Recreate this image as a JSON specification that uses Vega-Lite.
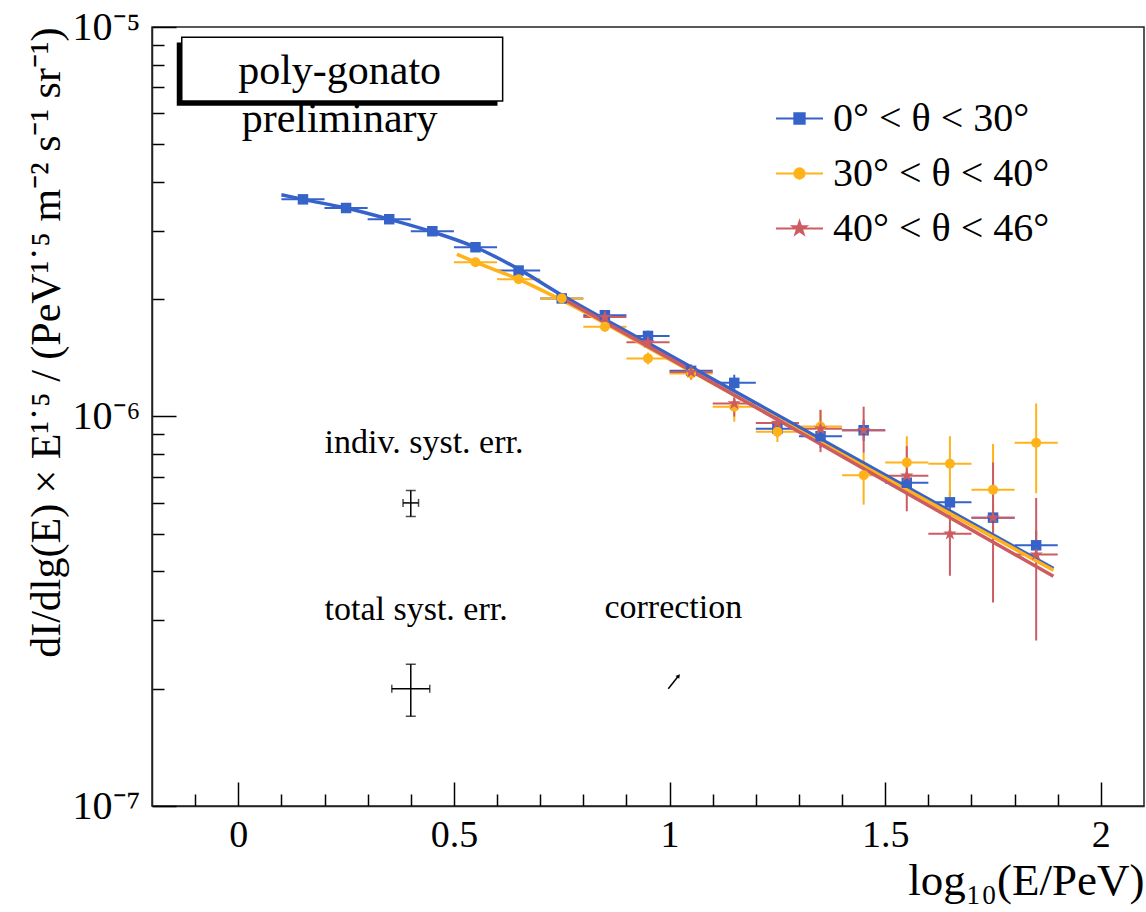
{
  "$schema": "https://vega.github.io/schema/vega-lite/v6.json",
  "width": 992,
  "height": 779,
  "autosize": "none",
  "padding": {"left": 152, "top": 27, "right": 2, "bottom": 106},
  "background": "white",
  "config": {"view": {"stroke": "#222", "strokeWidth": 1.5}, "font": "Liberation Serif"},
  "datasets": {
    "pts": [
      {"s": "0° < θ < 30°", "x": 0.15, "y": 3.61e-6, "lo": 3.55e-6, "hi": 3.67e-6, "xlo": 0.1, "xhi": 0.2},
      {"s": "0° < θ < 30°", "x": 0.25, "y": 3.43e-6, "lo": 3.37e-6, "hi": 3.49e-6, "xlo": 0.2, "xhi": 0.3},
      {"s": "0° < θ < 30°", "x": 0.35, "y": 3.21e-6, "lo": 3.15e-6, "hi": 3.27e-6, "xlo": 0.3, "xhi": 0.4},
      {"s": "0° < θ < 30°", "x": 0.45, "y": 2.99e-6, "lo": 2.94e-6, "hi": 3.04e-6, "xlo": 0.4, "xhi": 0.5},
      {"s": "0° < θ < 30°", "x": 0.55, "y": 2.72e-6, "lo": 2.67e-6, "hi": 2.77e-6, "xlo": 0.5, "xhi": 0.6},
      {"s": "0° < θ < 30°", "x": 0.65, "y": 2.37e-6, "lo": 2.32e-6, "hi": 2.42e-6, "xlo": 0.6, "xhi": 0.7},
      {"s": "0° < θ < 30°", "x": 0.75, "y": 2.01e-6, "lo": 1.97e-6, "hi": 2.05e-6, "xlo": 0.7, "xhi": 0.8},
      {"s": "0° < θ < 30°", "x": 0.85, "y": 1.82e-6, "lo": 1.77e-6, "hi": 1.87e-6, "xlo": 0.8, "xhi": 0.9},
      {"s": "0° < θ < 30°", "x": 0.95, "y": 1.61e-6, "lo": 1.56e-6, "hi": 1.66e-6, "xlo": 0.9, "xhi": 1.0},
      {"s": "0° < θ < 30°", "x": 1.05, "y": 1.31e-6, "lo": 1.26e-6, "hi": 1.36e-6, "xlo": 1.0, "xhi": 1.1},
      {"s": "0° < θ < 30°", "x": 1.15, "y": 1.22e-6, "lo": 1.17e-6, "hi": 1.28e-6, "xlo": 1.1, "xhi": 1.2},
      {"s": "0° < θ < 30°", "x": 1.25, "y": 9.3e-7, "lo": 8.85e-7, "hi": 9.75e-7, "xlo": 1.2, "xhi": 1.3},
      {"s": "0° < θ < 30°", "x": 1.35, "y": 8.9e-7, "lo": 8.3e-7, "hi": 9.6e-7, "xlo": 1.3, "xhi": 1.4},
      {"s": "0° < θ < 30°", "x": 1.45, "y": 9.22e-7, "lo": 8.65e-7, "hi": 9.8e-7, "xlo": 1.4, "xhi": 1.5},
      {"s": "0° < θ < 30°", "x": 1.55, "y": 6.76e-7, "lo": 6.3e-7, "hi": 7.2e-7, "xlo": 1.5, "xhi": 1.6},
      {"s": "0° < θ < 30°", "x": 1.65, "y": 6.02e-7, "lo": 5.6e-7, "hi": 6.45e-7, "xlo": 1.6, "xhi": 1.7},
      {"s": "0° < θ < 30°", "x": 1.75, "y": 5.5e-7, "lo": 5.05e-7, "hi": 5.95e-7, "xlo": 1.7, "xhi": 1.8},
      {"s": "0° < θ < 30°", "x": 1.85, "y": 4.67e-7, "lo": 4.25e-7, "hi": 5.1e-7, "xlo": 1.8, "xhi": 1.9},
      {"s": "30° < θ < 40°", "x": 0.55, "y": 2.49e-6, "lo": 2.45e-6, "hi": 2.53e-6, "xlo": 0.5, "xhi": 0.6},
      {"s": "30° < θ < 40°", "x": 0.65, "y": 2.25e-6, "lo": 2.2e-6, "hi": 2.3e-6, "xlo": 0.6, "xhi": 0.7},
      {"s": "30° < θ < 40°", "x": 0.75, "y": 2.01e-6, "lo": 1.96e-6, "hi": 2.06e-6, "xlo": 0.7, "xhi": 0.8},
      {"s": "30° < θ < 40°", "x": 0.85, "y": 1.70e-6, "lo": 1.65e-6, "hi": 1.75e-6, "xlo": 0.8, "xhi": 0.9},
      {"s": "30° < θ < 40°", "x": 0.95, "y": 1.41e-6, "lo": 1.36e-6, "hi": 1.46e-6, "xlo": 0.9, "xhi": 1.0},
      {"s": "30° < θ < 40°", "x": 1.05, "y": 1.29e-6, "lo": 1.24e-6, "hi": 1.34e-6, "xlo": 1.0, "xhi": 1.1},
      {"s": "30° < θ < 40°", "x": 1.15, "y": 1.06e-6, "lo": 9.7e-7, "hi": 1.11e-6, "xlo": 1.1, "xhi": 1.2},
      {"s": "30° < θ < 40°", "x": 1.25, "y": 9.14e-7, "lo": 8.6e-7, "hi": 9.7e-7, "xlo": 1.2, "xhi": 1.3},
      {"s": "30° < θ < 40°", "x": 1.35, "y": 9.42e-7, "lo": 8.4e-7, "hi": 1.04e-6, "xlo": 1.3, "xhi": 1.4},
      {"s": "30° < θ < 40°", "x": 1.45, "y": 7.07e-7, "lo": 5.94e-7, "hi": 8.07e-7, "xlo": 1.4, "xhi": 1.5},
      {"s": "30° < θ < 40°", "x": 1.55, "y": 7.62e-7, "lo": 6.5e-7, "hi": 8.9e-7, "xlo": 1.5, "xhi": 1.6},
      {"s": "30° < θ < 40°", "x": 1.65, "y": 7.56e-7, "lo": 6.1e-7, "hi": 8.9e-7, "xlo": 1.6, "xhi": 1.7},
      {"s": "30° < θ < 40°", "x": 1.75, "y": 6.49e-7, "lo": 4.9e-7, "hi": 8.5e-7, "xlo": 1.7, "xhi": 1.8},
      {"s": "30° < θ < 40°", "x": 1.85, "y": 8.56e-7, "lo": 6.35e-7, "hi": 1.08e-6, "xlo": 1.8, "xhi": 1.9},
      {"s": "40° < θ < 46°", "x": 0.85, "y": 1.80e-6, "lo": 1.75e-6, "hi": 1.85e-6, "xlo": 0.8, "xhi": 0.9},
      {"s": "40° < θ < 46°", "x": 0.95, "y": 1.55e-6, "lo": 1.5e-6, "hi": 1.6e-6, "xlo": 0.9, "xhi": 1.0},
      {"s": "40° < θ < 46°", "x": 1.05, "y": 1.30e-6, "lo": 1.25e-6, "hi": 1.35e-6, "xlo": 1.0, "xhi": 1.1},
      {"s": "40° < θ < 46°", "x": 1.15, "y": 1.08e-6, "lo": 1.0e-6, "hi": 1.12e-6, "xlo": 1.1, "xhi": 1.2},
      {"s": "40° < θ < 46°", "x": 1.25, "y": 9.63e-7, "lo": 9.1e-7, "hi": 1.01e-6, "xlo": 1.2, "xhi": 1.3},
      {"s": "40° < θ < 46°", "x": 1.35, "y": 9.3e-7, "lo": 8.1e-7, "hi": 1.04e-6, "xlo": 1.3, "xhi": 1.4},
      {"s": "40° < θ < 46°", "x": 1.45, "y": 9.22e-7, "lo": 8.07e-7, "hi": 1.06e-6, "xlo": 1.4, "xhi": 1.5},
      {"s": "40° < θ < 46°", "x": 1.55, "y": 7.05e-7, "lo": 5.71e-7, "hi": 8.39e-7, "xlo": 1.5, "xhi": 1.6},
      {"s": "40° < θ < 46°", "x": 1.65, "y": 5.0e-7, "lo": 3.9e-7, "hi": 6.1e-7, "xlo": 1.6, "xhi": 1.7},
      {"s": "40° < θ < 46°", "x": 1.75, "y": 5.5e-7, "lo": 3.33e-7, "hi": 7.62e-7, "xlo": 1.7, "xhi": 1.8},
      {"s": "40° < θ < 46°", "x": 1.85, "y": 4.42e-7, "lo": 2.66e-7, "hi": 6.18e-7, "xlo": 1.8, "xhi": 1.9}
    ],
    "fits": [
      {"s": "0° < θ < 30°", "x": 0.10, "y": 3.71e-6},
      {"s": "0° < θ < 30°", "x": 0.15, "y": 3.61e-6},
      {"s": "0° < θ < 30°", "x": 0.25, "y": 3.43e-6},
      {"s": "0° < θ < 30°", "x": 0.35, "y": 3.21e-6},
      {"s": "0° < θ < 30°", "x": 0.45, "y": 2.98e-6},
      {"s": "0° < θ < 30°", "x": 0.55, "y": 2.72e-6},
      {"s": "0° < θ < 30°", "x": 0.65, "y": 2.39e-6},
      {"s": "0° < θ < 30°", "x": 0.75, "y": 2.05e-6},
      {"s": "0° < θ < 30°", "x": 1.0, "y": 1.439e-6},
      {"s": "0° < θ < 30°", "x": 1.25, "y": 1.009e-6},
      {"s": "0° < θ < 30°", "x": 1.5, "y": 7.08e-7},
      {"s": "0° < θ < 30°", "x": 1.89, "y": 4.07e-7},
      {"s": "30° < θ < 40°", "x": 0.507, "y": 2.61e-6},
      {"s": "30° < θ < 40°", "x": 0.55, "y": 2.49e-6},
      {"s": "30° < θ < 40°", "x": 0.65, "y": 2.25e-6},
      {"s": "30° < θ < 40°", "x": 0.75, "y": 1.99e-6},
      {"s": "30° < θ < 40°", "x": 1.0, "y": 1.40e-6},
      {"s": "30° < θ < 40°", "x": 1.5, "y": 6.95e-7},
      {"s": "30° < θ < 40°", "x": 1.89, "y": 4.03e-7},
      {"s": "40° < θ < 46°", "x": 0.745, "y": 2.03e-6},
      {"s": "40° < θ < 46°", "x": 1.0, "y": 1.41e-6},
      {"s": "40° < θ < 46°", "x": 1.5, "y": 6.83e-7},
      {"s": "40° < θ < 46°", "x": 1.89, "y": 3.89e-7}
    ],
    "leg": [
      {"s": "0° < θ < 30°"},
      {"s": "30° < θ < 40°"},
      {"s": "40° < θ < 46°"}
    ],
    "shadow": [{"x1": -0.1426, "x2": 0.601, "y1": 9.13e-6, "y2": 6.28e-6}],
    "box": [{"x1": -0.131, "x2": 0.613, "y1": 9.41e-6, "y2": 6.46e-6}],
    "boxtext": [
      {"x": 0.235, "y": 7.13e-6, "t": "poly-gonato"},
      {"x": 0.235, "y": 5.36e-6, "t": "preliminary"}
    ],
    "notes": [
      {"x": 0.2, "y": 8.06e-7, "t": "indiv. syst. err."},
      {"x": 0.2, "y": 3.0e-7, "t": "total syst. err."},
      {"x": 0.849, "y": 3.04e-7, "t": "correction"}
    ],
    "syst": [
      {"x": 0.4, "y": 6.0e-7, "ylo": 5.54e-7, "yhi": 6.46e-7, "xlo": 0.382, "xhi": 0.418},
      {"x": 0.4, "y": 2.0e-7, "ylo": 1.70e-7, "yhi": 2.31e-7, "xlo": 0.356, "xhi": 0.444}
    ],
    "arrow": [{"x": 0.997, "y": 2.0e-7, "x2": 1.021, "y2": 2.16e-7}]
  },
  "layer": [
    {
      "data": {"name": "shadow"},
      "mark": {"type": "rect", "fill": "black"},
      "encoding": {
        "x": {"field": "x1", "type": "quantitative", "scale": {"domain": [-0.2, 2.1], "nice": false, "zero": false},
          "axis": {
            "title": "log₁₀(E/PeV)",
            "values": [-0.1, 0, 0.1, 0.2, 0.3, 0.4, 0.5, 0.6, 0.7, 0.8, 0.9, 1, 1.1, 1.2, 1.3, 1.4, 1.5, 1.6, 1.7, 1.8, 1.9, 2],
            "labelExpr": "abs(datum.value*2-round(datum.value*2)) < 0.000001 ? '' + datum.value : ''",
            "tickSize": {"condition": {"test": "abs(datum.value*2-round(datum.value*2)) < 0.000001", "value": -24}, "value": -12},
            "tickColor": "black", "tickWidth": 1.5,
            "domainColor": "#222", "domainWidth": 1.5,
            "grid": false, "labelOverlap": false, "labelFlush": false,
            "labelFont": "Liberation Serif", "labelFontSize": 38, "labelColor": "black", "labelPadding": 34,
            "titleFont": "Liberation Serif", "titleFontSize": 45, "titleFontWeight": "normal", "titleColor": "black",
            "titleAnchor": "end", "titleAlign": "right", "titlePadding": -8
          }},
        "x2": {"field": "x2"},
        "y": {"field": "y1", "type": "quantitative", "scale": {"type": "log", "domain": [1e-7, 1e-5], "nice": false},
          "axis": {
            "title": "dI/dlg(E) × E¹˙⁵ / (PeV¹˙⁵ m⁻² s⁻¹ sr⁻¹)",
            "values": [1e-7, 2e-7, 3e-7, 4e-7, 5e-7, 6e-7, 7e-7, 8e-7, 9e-7, 1e-6, 2e-6, 3e-6, 4e-6, 5e-6, 6e-6, 7e-6, 8e-6, 9e-6, 1e-5],
            "labelExpr": "datum.value == 1e-5 ? '10⁻⁵' : datum.value == 1e-6 ? '10⁻⁶' : datum.value == 1e-7 ? '10⁻⁷' : ''",
            "tickSize": {"condition": {"test": "datum.value == 1e-5 || datum.value == 1e-6 || datum.value == 1e-7", "value": -24}, "value": -12},
            "tickColor": "black", "tickWidth": 1.5,
            "domainColor": "#222", "domainWidth": 1.5,
            "grid": false, "labelOverlap": false, "labelFlush": false,
            "labelFont": "Liberation Serif", "labelFontSize": 40, "labelColor": "black", "labelPadding": 36,
            "titleFont": "Liberation Serif", "titleFontSize": 42, "titleFontWeight": "normal", "titleColor": "black",
            "titleAnchor": "end", "titlePadding": 4
          }},
        "y2": {"field": "y2"}
      }
    },
    {
      "data": {"name": "box"},
      "mark": {"type": "rect", "fill": "white", "stroke": "black", "strokeWidth": 1.5},
      "encoding": {
        "x": {"field": "x1", "type": "quantitative"},
        "x2": {"field": "x2"},
        "y": {"field": "y1", "type": "quantitative"},
        "y2": {"field": "y2"}
      }
    },
    {
      "data": {"name": "boxtext"},
      "mark": {"type": "text", "font": "Liberation Serif", "fontSize": 42, "align": "center", "baseline": "alphabetic", "color": "black"},
      "encoding": {
        "x": {"field": "x", "type": "quantitative"},
        "y": {"field": "y", "type": "quantitative"},
        "text": {"field": "t"}
      }
    },
    {
      "data": {"name": "notes"},
      "mark": {"type": "text", "font": "Liberation Serif", "fontSize": 34, "align": "left", "baseline": "alphabetic", "color": "black"},
      "encoding": {
        "x": {"field": "x", "type": "quantitative"},
        "y": {"field": "y", "type": "quantitative"},
        "text": {"field": "t"}
      }
    },
    {
      "data": {"name": "syst"},
      "mark": {"type": "rule", "color": "black", "strokeWidth": 1.5},
      "encoding": {
        "x": {"field": "x", "type": "quantitative"},
        "y": {"field": "ylo", "type": "quantitative"},
        "y2": {"field": "yhi"}
      }
    },
    {
      "data": {"name": "syst"},
      "mark": {"type": "rule", "color": "black", "strokeWidth": 1.5},
      "encoding": {
        "x": {"field": "xlo", "type": "quantitative"},
        "x2": {"field": "xhi"},
        "y": {"field": "y", "type": "quantitative"}
      }
    },
    {
      "data": {"name": "syst"},
      "mark": {"type": "tick", "orient": "horizontal", "color": "black", "size": 10, "thickness": 1.5},
      "encoding": {
        "x": {"field": "x", "type": "quantitative"},
        "y": {"field": "ylo", "type": "quantitative"}
      }
    },
    {
      "data": {"name": "syst"},
      "mark": {"type": "tick", "orient": "horizontal", "color": "black", "size": 10, "thickness": 1.5},
      "encoding": {
        "x": {"field": "x", "type": "quantitative"},
        "y": {"field": "yhi", "type": "quantitative"}
      }
    },
    {
      "data": {"name": "syst"},
      "mark": {"type": "tick", "orient": "vertical", "color": "black", "size": 8, "thickness": 1.5},
      "encoding": {
        "x": {"field": "xlo", "type": "quantitative"},
        "y": {"field": "y", "type": "quantitative"}
      }
    },
    {
      "data": {"name": "syst"},
      "mark": {"type": "tick", "orient": "vertical", "color": "black", "size": 8, "thickness": 1.5},
      "encoding": {
        "x": {"field": "xhi", "type": "quantitative"},
        "y": {"field": "y", "type": "quantitative"}
      }
    },
    {
      "data": {"name": "arrow"},
      "mark": {"type": "rule", "color": "black", "strokeWidth": 1.5},
      "encoding": {
        "x": {"field": "x", "type": "quantitative"},
        "y": {"field": "y", "type": "quantitative"},
        "x2": {"field": "x2"},
        "y2": {"field": "y2"}
      }
    },
    {
      "data": {"name": "arrow"},
      "mark": {"type": "point", "shape": "triangle-up", "filled": true, "color": "black", "size": 22, "angle": 38, "opacity": 1},
      "encoding": {
        "x": {"field": "x2", "type": "quantitative"},
        "y": {"field": "y2", "type": "quantitative"}
      }
    },
    {
      "data": {"name": "pts"},
      "mark": {"type": "rule", "strokeWidth": 2},
      "encoding": {
        "x": {"field": "x", "type": "quantitative"},
        "y": {"field": "lo", "type": "quantitative"},
        "y2": {"field": "hi"},
        "color": {"field": "s", "type": "nominal",
          "scale": {"domain": ["0° < θ < 30°", "30° < θ < 40°", "40° < θ < 46°"], "range": ["#3663c9", "#ffb21a", "#cd5c62"]}}
      }
    },
    {
      "data": {"name": "pts"},
      "mark": {"type": "rule", "strokeWidth": 2},
      "encoding": {
        "x": {"field": "xlo", "type": "quantitative"},
        "x2": {"field": "xhi"},
        "y": {"field": "y", "type": "quantitative"},
        "color": {"field": "s", "type": "nominal"}
      }
    },
    {
      "data": {"name": "fits"},
      "mark": {"type": "line", "strokeWidth": 3.5, "interpolate": "monotone"},
      "encoding": {
        "x": {"field": "x", "type": "quantitative"},
        "y": {"field": "y", "type": "quantitative"},
        "color": {"field": "s", "type": "nominal"}
      }
    },
    {
      "data": {"name": "pts"},
      "transform": [{"filter": {"field": "s", "equal": "0° < θ < 30°"}}],
      "mark": {"type": "point", "shape": "square", "filled": true, "size": 110, "opacity": 1},
      "encoding": {
        "x": {"field": "x", "type": "quantitative"},
        "y": {"field": "y", "type": "quantitative"},
        "color": {"field": "s", "type": "nominal"}
      }
    },
    {
      "data": {"name": "pts"},
      "transform": [{"filter": {"field": "s", "equal": "30° < θ < 40°"}}],
      "mark": {"type": "point", "shape": "circle", "filled": true, "size": 100, "opacity": 1},
      "encoding": {
        "x": {"field": "x", "type": "quantitative"},
        "y": {"field": "y", "type": "quantitative"},
        "color": {"field": "s", "type": "nominal"}
      }
    },
    {
      "data": {"name": "pts"},
      "transform": [{"filter": {"field": "s", "equal": "40° < θ < 46°"}}],
      "mark": {"type": "point", "shape": "M0,-1L0.2245,-0.309L0.9511,-0.309L0.3633,0.118L0.5878,0.809L0,0.382L-0.5878,0.809L-0.3633,0.118L-0.9511,-0.309L-0.2245,-0.309Z", "filled": true, "size": 200, "opacity": 1},
      "encoding": {
        "x": {"field": "x", "type": "quantitative"},
        "y": {"field": "y", "type": "quantitative"},
        "color": {"field": "s", "type": "nominal"}
      }
    },
    {
      "data": {"name": "leg"},
      "mark": {"type": "point", "filled": true, "opacity": 0},
      "encoding": {
        "color": {"field": "s", "type": "nominal",
          "legend": {"orient": "none", "legendX": 623, "legendY": 67, "title": null, "padding": 0,
            "symbolSize": 2209, "symbolStrokeWidth": 2, "symbolOpacity": 1,
            "labelFont": "Liberation Serif", "labelFontSize": 40, "labelColor": "black", "labelOffset": 9, "labelLimit": 600,
            "rowPadding": 10,
            "encode": {"symbols": {"update": {"stroke": {"scale": "color", "field": "value"}, "fill": {"scale": "color", "field": "value"}, "strokeWidth": {"value": 2}, "opacity": {"value": 1}}}}}},
        "shape": {"field": "s", "type": "nominal",
          "scale": {"domain": ["0° < θ < 30°", "30° < θ < 40°", "40° < θ < 46°"],
            "range": [
              "M-1,0H1M-0.22,-0.22H0.22V0.22H-0.22Z",
              "M-1,0H1M0.22,0A0.22,0.22,0,1,1,-0.22,0A0.22,0.22,0,1,1,0.22,0Z",
              "M-1,0H1M0,-0.3L0.0674,-0.0927L0.2853,-0.0927L0.109,0.0354L0.1763,0.2427L0,0.1146L-0.1763,0.2427L-0.109,0.0354L-0.2853,-0.0927L-0.0674,-0.0927Z"
            ]},
          "legend": {"orient": "none", "legendX": 623, "legendY": 67, "title": null, "padding": 0,
            "symbolSize": 2209, "symbolStrokeWidth": 2, "symbolOpacity": 1,
            "labelFont": "Liberation Serif", "labelFontSize": 40, "labelColor": "black", "labelOffset": 9, "labelLimit": 600,
            "rowPadding": 10,
            "encode": {"symbols": {"update": {"stroke": {"scale": "color", "field": "value"}, "fill": {"scale": "color", "field": "value"}, "strokeWidth": {"value": 2}, "opacity": {"value": 1}}}}}}
      }
    }
  ]
}
